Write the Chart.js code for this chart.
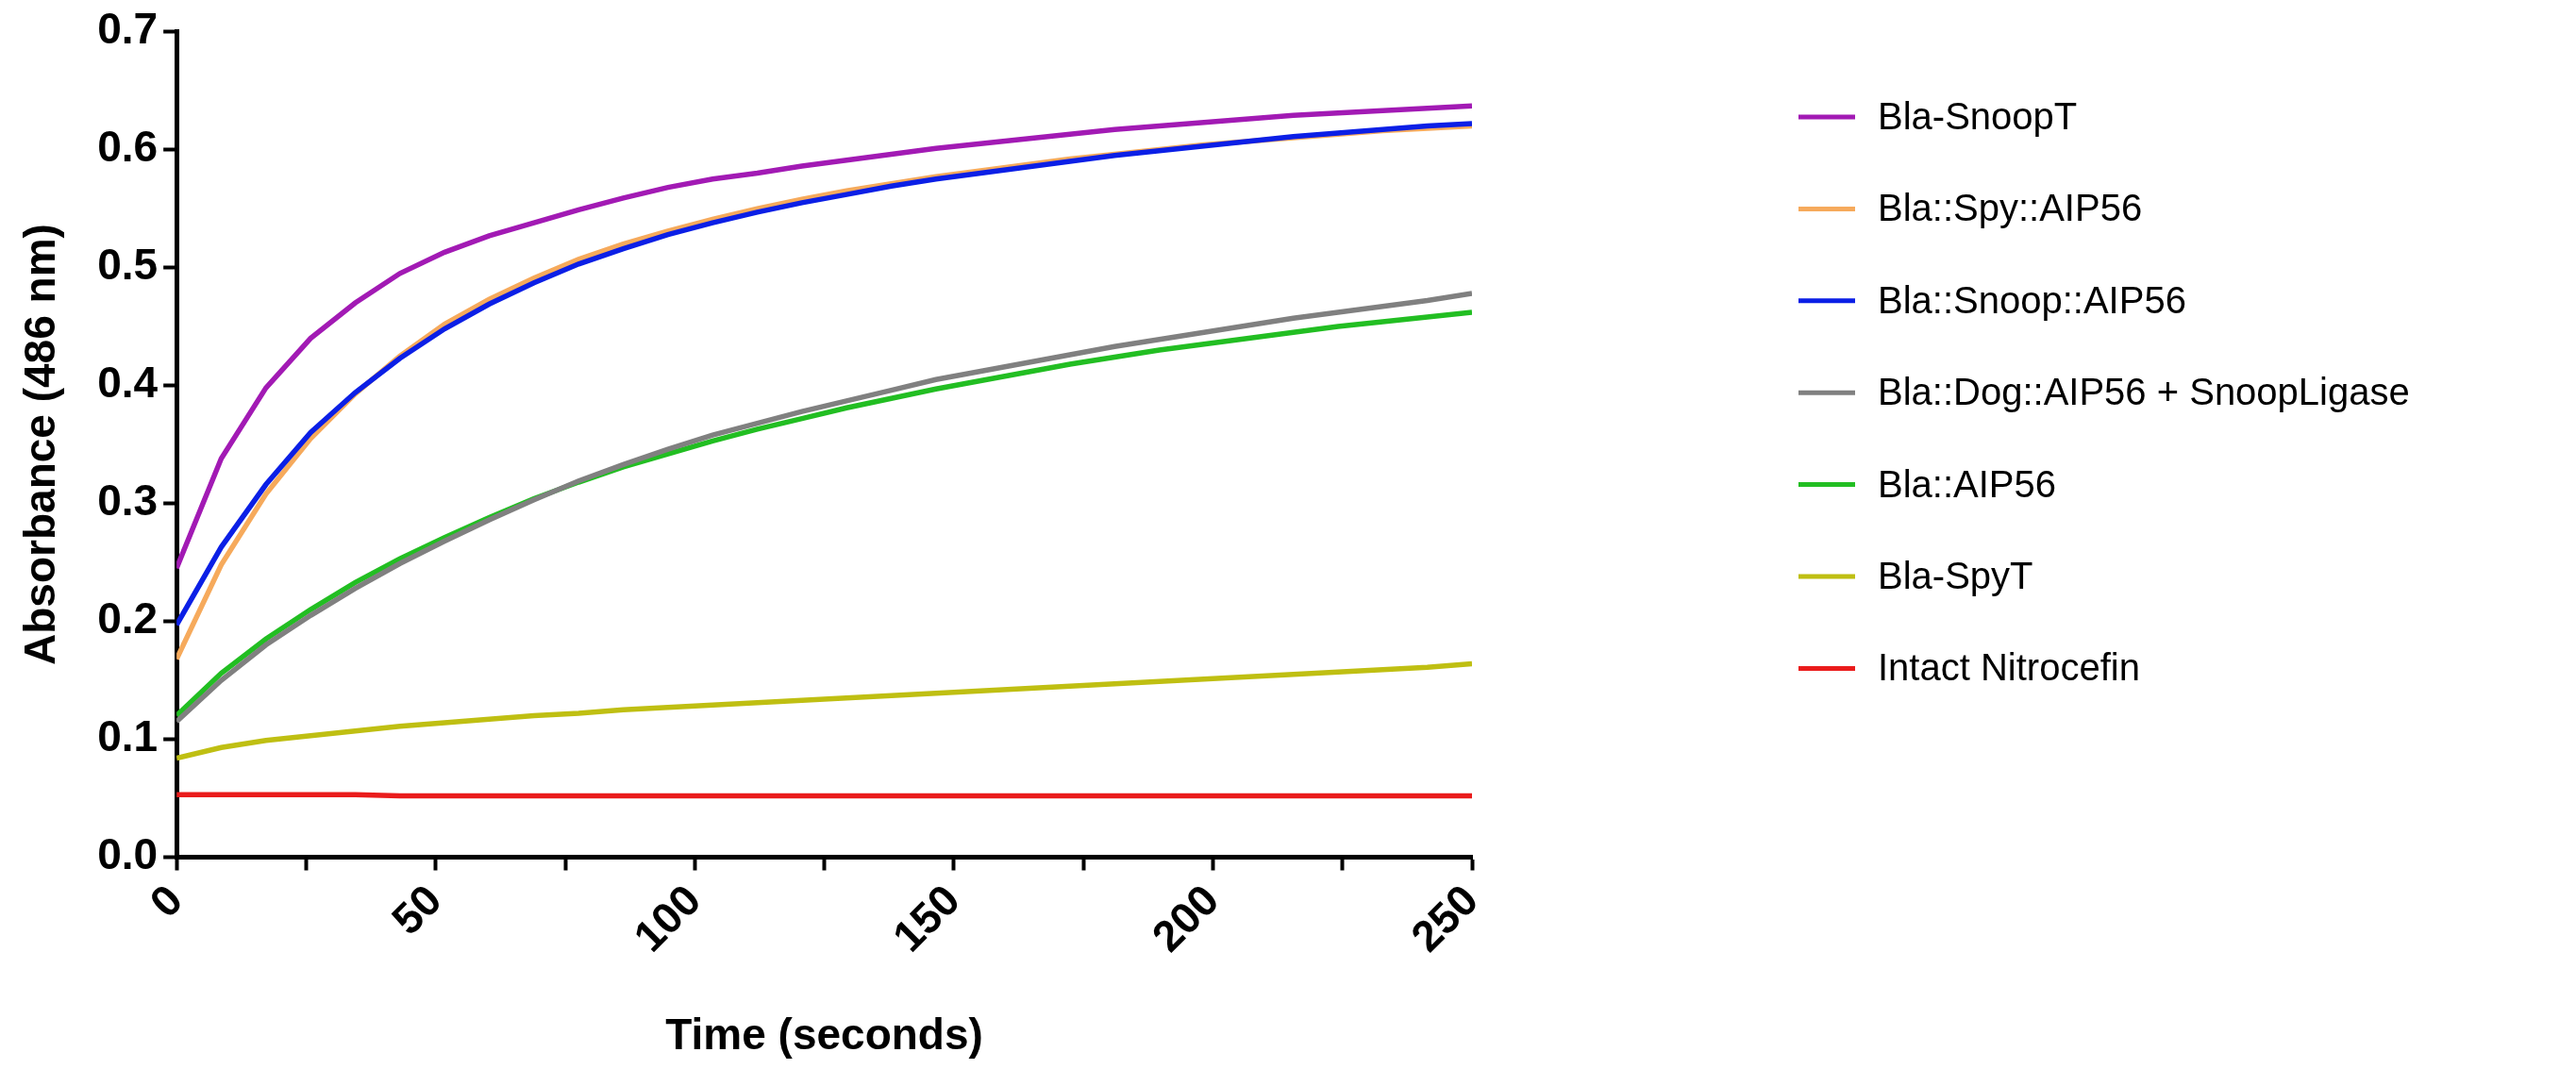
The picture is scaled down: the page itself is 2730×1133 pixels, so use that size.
<!DOCTYPE html>
<html><head><meta charset="utf-8">
<script src="https://cdn.jsdelivr.net/npm/chart.js@4/dist/chart.umd.min.js"></script>
<style>html,body{margin:0;padding:0;background:#fff}#w{width:2730px;height:1133px}</style>
</head><body><div id="w"><canvas id="c"></canvas></div>
<script>
const times = Array.from({length:30},(_,i)=>+(i*250/29).toFixed(2));
const seriesNames = ["Bla-SnoopT","Bla::Spy::AIP56","Bla::Snoop::AIP56","Bla::Dog::AIP56 + SnoopLigase","Bla::AIP56","Bla-SpyT","Intact Nitrocefin"];
const seriesColors = ["#A21AB4","#F6AA5C","#0B1FE6","#808080","#22BE22","#BFBF12","#EA1C1C"];
const snoopT = [0.245,0.338,0.398,0.44,0.47,0.495,0.513,0.527,0.538,0.549,0.559,0.568,0.575,0.580,0.586,0.591,0.596,0.601,0.605,0.609,0.613,0.617,0.620,0.623,0.626,0.629,0.631,0.633,0.635,0.637];
const spyAIP = [0.168,0.248,0.308,0.355,0.393,0.425,0.452,0.473,0.491,0.507,0.520,0.531,0.541,0.550,0.558,0.565,0.571,0.577,0.582,0.587,0.592,0.596,0.600,0.604,0.607,0.610,0.613,0.616,0.618,0.620];
const snoopAIP = [0.197,0.263,0.316,0.360,0.394,0.423,0.448,0.469,0.487,0.503,0.516,0.528,0.538,0.547,0.555,0.562,0.569,0.575,0.580,0.585,0.590,0.595,0.599,0.603,0.607,0.611,0.614,0.617,0.620,0.622];
const dogAIP = [0.115,0.150,0.180,0.205,0.228,0.249,0.268,0.286,0.303,0.319,0.333,0.346,0.358,0.368,0.378,0.387,0.396,0.405,0.412,0.419,0.426,0.433,0.439,0.445,0.451,0.457,0.462,0.467,0.472,0.478];
const aip = [0.120,0.156,0.185,0.210,0.233,0.253,0.271,0.288,0.304,0.318,0.331,0.342,0.353,0.363,0.372,0.381,0.389,0.397,0.404,0.411,0.418,0.424,0.430,0.435,0.440,0.445,0.450,0.454,0.458,0.462];
const spyT = [0.084,0.093,0.099,0.103,0.107,0.111,0.114,0.117,0.120,0.122,0.125,0.127,0.129,0.131,0.133,0.135,0.137,0.139,0.141,0.143,0.145,0.147,0.149,0.151,0.153,0.155,0.157,0.159,0.161,0.164];
const nitro = [0.053,0.053,0.053,0.053,0.053,0.052,0.052,0.052,0.052,0.052,0.052,0.052,0.052,0.052,0.052,0.052,0.052,0.052,0.052,0.052,0.052,0.052,0.052,0.052,0.052,0.052,0.052,0.052,0.052,0.052];
const allValues = [snoopT,spyAIP,snoopAIP,dogAIP,aip,spyT,nitro];
const drawOrder = [6,5,3,4,2,1,0];
const FONT = "'Liberation Sans', Arial, sans-serif";

const legendPlugin = {
  id:'customLegend',
  afterDraw(chart){
    const ctx = chart.ctx; ctx.save();
    ctx.font = "40px " + FONT; ctx.textBaseline='middle';
    seriesNames.forEach((n,i)=>{
      const y = 124 + i*112.6*0.865;
      ctx.strokeStyle = seriesColors[i]; ctx.lineWidth=5;
      ctx.beginPath(); ctx.moveTo(1906,y); ctx.lineTo(1966,y); ctx.stroke();
      ctx.fillStyle='#000'; ctx.fillText(n,1990,y+2);
    });
    ctx.restore();
  }
};

new Chart(document.getElementById('c'),{
  type:'line',
  data:{datasets: drawOrder.map(i=>({label:seriesNames[i],data:times.map((t,k)=>({x:t,y:allValues[i][k]})),borderColor:seriesColors[i],borderWidth:5.5,pointRadius:0,tension:0,fill:false}))},
  options:{
    responsive:true,maintainAspectRatio:false,animation:false,
    layout:{padding:{left:14,right:1170,top:14,bottom:2}},
    plugins:{legend:{display:false},tooltip:{enabled:false}},
    scales:{
      x:{type:'linear',min:0,max:250,
        grid:{display:true,drawOnChartArea:false,drawTicks:true,tickLength:14,tickColor:'#000',tickWidth:4},
        border:{color:'#000',width:5},
        ticks:{stepSize:25,autoSkip:false,minRotation:45,maxRotation:45,color:'#000',font:{family:FONT,size:46,weight:'bold'},padding:6,
          callback:v=>v%50===0?String(v):''},
        title:{display:true,text:'Time (seconds)',color:'#000',font:{family:FONT,size:46,weight:'bold'},padding:{top:44}}},
      y:{min:0,max:0.7,
        grid:{display:true,drawOnChartArea:false,drawTicks:true,tickLength:14,tickColor:'#000',tickWidth:4},
        border:{color:'#000',width:5},
        ticks:{stepSize:0.1,color:'#000',font:{family:FONT,size:46,weight:'bold'},padding:6,callback:v=>v.toFixed(1)},
        title:{display:true,text:'Absorbance (486 nm)',color:'#000',font:{family:FONT,size:46,weight:'bold'},padding:{bottom:24}}}
    }
  },
  plugins:[legendPlugin]
});
</script></body></html>
